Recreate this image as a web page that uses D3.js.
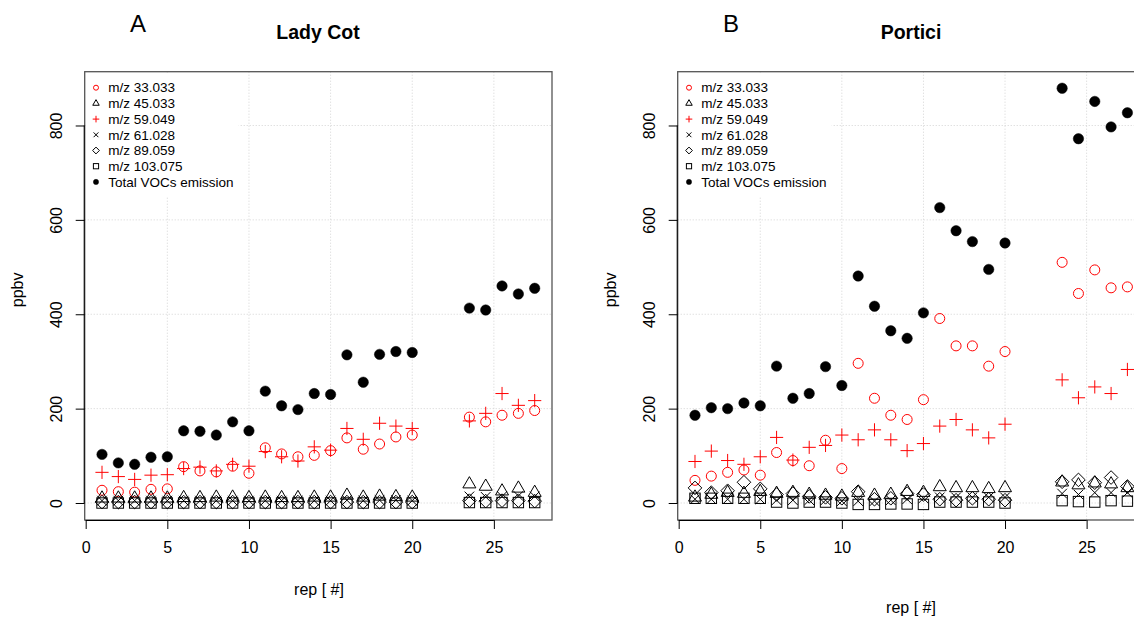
<!DOCTYPE html>
<html>
<head>
<meta charset="utf-8">
<script src="https://cdn.jsdelivr.net/npm/d3@7"></script>
<style>
  body { margin: 0; background: #fff; }
  svg { display: block; font-family: "Liberation Sans", Arial, sans-serif; }
</style>
</head>
<body>
<svg id="chart" width="1134" height="617"></svg>
<script>
//Repetition numbers (x values), same for both sites
var reps = [1, 2, 3, 4, 5, 6, 7, 8, 9, 10, 11, 12, 13, 14, 15, 16, 17, 18, 19, 20, 23.5, 24.5, 25.5, 26.5, 27.5];

//Lady Cot series (ppbv)
var ladyMz33  = [27, 24, 23, 29, 30, 77, 68, 66, 78, 63, 117, 104, 98, 101, 111, 138, 114, 125, 140, 144, 182, 172, 186, 190, 196];
var ladyMz45  = [10, 10, 10, 10, 10, 11, 11, 12, 12, 11, 12, 11, 11, 12, 12, 16, 12, 14, 13, 12, 40, 35, 25, 31, 22];
var ladyMz59  = [65, 56, 50, 59, 60, 73, 76, 68, 82, 78, 109, 98, 89, 119, 112, 158, 135, 169, 163, 158, 174, 190, 232, 207, 217];
var ladyMz61  = [5, 5, 5, 5, 5, 5, 5, 5, 5, 5, 5, 5, 5, 5, 5, 6, 5, 6, 6, 5, 14, 13, 14, 15, 14];
var ladyMz89  = [2, 2, 2, 2, 2, 2, 2, 2, 2, 2, 2, 2, 2, 2, 2, 2, 2, 2, 2, 2, 5, 4, 5, 5, 4];
var ladyMz103 = [0, 0, 0, 0, 0, 0, 0, 0, 0, 0, 0, 0, 0, 0, 0, 0, 0, 0, 0, 0, 1, 1, 1, 1, 1];
var ladyTotal = [103, 85, 82, 97, 98, 153, 152, 144, 172, 153, 237, 206, 198, 232, 230, 314, 256, 315, 321, 319, 413, 409, 460, 443, 455];

//Portici series (ppbv)
var portMz33  = [48, 57, 65, 70, 59, 107, 90, 79, 133, 73, 296, 222, 186, 177, 219, 391, 333, 333, 290, 321, 510, 444, 494, 456, 458];
var portMz45  = [12, 18, 22, 20, 24, 20, 22, 18, 16, 14, 22, 16, 18, 24, 22, 34, 32, 32, 30, 32, 44, 38, 42, 40, 32];
var portMz59  = [88, 110, 90, 82, 98, 139, 91, 118, 122, 144, 134, 155, 134, 111, 126, 163, 177, 155, 138, 167, 261, 223, 246, 232, 283];
var portMz61  = [8, 8, 8, 8, 8, 6, 6, 6, 6, 4, 4, 4, 6, 8, 10, 12, 12, 12, 12, 12, 20, 18, 22, 22, 22];
var portMz89  = [32, 22, 26, 44, 30, 18, 20, 14, 12, 10, 24, 8, 10, 20, 18, 8, 6, 10, 8, 6, 45, 49, 43, 54, 35];
var portMz103 = [10, 10, 10, 10, 10, 2, 0, 2, 2, 0, -3, -3, -2, -2, -3, 2, 2, 2, 2, 0, 5, 3, 2, 5, 4];
var portTotal = [186, 202, 200, 212, 206, 290, 222, 232, 289, 249, 481, 417, 365, 349, 403, 626, 577, 554, 495, 551, 879, 772, 851, 797, 827];

//Legend labels, in plotting order
var seriesLabels = ["m/z 33.033", "m/z 45.033", "m/z 59.049", "m/z 61.028", "m/z 89.059", "m/z 103.075", "Total VOCs emission"];
//Marker type and colour for each series
var seriesMarkers = ["circle", "triangle", "plus", "cross", "diamond", "square", "dot"];
var seriesColours = ["#ff0000", "#000", "#ff0000", "#000", "#000", "#000", "#000"];

//Axis ticks
var xTicks = [0, 5, 10, 15, 20, 25];
var yTicks = [0, 200, 400, 600, 800];
var xGrid = [5, 10, 15, 20, 25];
var yGrid = [0, 200, 400, 600, 800];

var svg = d3.select("#chart");

//Draws one R-like plotting symbol, k scales the size (1 = points, 0.5 = legend)
function appendMarker(g, type, cx, cy, colour, k) {
  var s;
  if (type == "circle") {
    g.append("circle").attr("cx", cx).attr("cy", cy).attr("r", 5 * k)
      .attr("fill", "none").attr("stroke", colour).attr("stroke-width", 1);
  } else if (type == "dot") {
    g.append("circle").attr("cx", cx).attr("cy", cy).attr("r", 5.2 * k)
      .attr("fill", colour).attr("stroke", colour).attr("stroke-width", 0.5);
  } else if (type == "triangle") {
    s = 7.5 * k;
    var hw = s * Math.sqrt(3) / 2;
    g.append("path")
      .attr("d", "M" + cx + "," + (cy - s) + "L" + (cx + hw) + "," + (cy + s / 2) + "L" + (cx - hw) + "," + (cy + s / 2) + "Z")
      .attr("fill", "none").attr("stroke", colour).attr("stroke-width", 1);
  } else if (type == "plus") {
    s = 6.6 * k;
    g.append("path")
      .attr("d", "M" + (cx - s) + "," + cy + "H" + (cx + s) + "M" + cx + "," + (cy - s) + "V" + (cy + s))
      .attr("fill", "none").attr("stroke", colour).attr("stroke-width", 1);
  } else if (type == "cross") {
    s = 4.8 * k;
    g.append("path")
      .attr("d", "M" + (cx - s) + "," + (cy - s) + "L" + (cx + s) + "," + (cy + s) + "M" + (cx - s) + "," + (cy + s) + "L" + (cx + s) + "," + (cy - s))
      .attr("fill", "none").attr("stroke", colour).attr("stroke-width", 1);
  } else if (type == "diamond") {
    s = 6.8 * k;
    g.append("path")
      .attr("d", "M" + cx + "," + (cy - s) + "L" + (cx + s) + "," + cy + "L" + cx + "," + (cy + s) + "L" + (cx - s) + "," + cy + "Z")
      .attr("fill", "none").attr("stroke", colour).attr("stroke-width", 1);
  } else if (type == "square") {
    s = 5.2 * k;
    g.append("rect").attr("x", cx - s).attr("y", cy - s).attr("width", 2 * s).attr("height", 2 * s)
      .attr("fill", "none").attr("stroke", colour).attr("stroke-width", 1);
  }
}

//Builds one panel
function drawPanel(p) {
  var x = d3.scaleLinear().domain([-0.06, 28.56]).range([p.left, p.right]);
  var y = d3.scaleLinear().domain([-36, 914]).range([p.bottom, p.top]);

  var g = svg.append("g");

  //Gridlines (dotted light grey)
  g.append("g").selectAll("line").data(xGrid).enter().append("line")
    .attr("x1", function(d) { return x(d); }).attr("x2", function(d) { return x(d); })
    .attr("y1", p.top).attr("y2", p.bottom)
    .attr("stroke", "#d3d3d3").attr("stroke-dasharray", "1,2");
  g.append("g").selectAll("line").data(yGrid).enter().append("line")
    .attr("x1", p.left).attr("x2", p.right)
    .attr("y1", function(d) { return y(d); }).attr("y2", function(d) { return y(d); })
    .attr("stroke", "#d3d3d3").attr("stroke-dasharray", "1,2");

  //Points, one group per series
  p.series.forEach(function(values, i) {
    var sg = g.append("g");
    values.forEach(function(v, j) {
      appendMarker(sg, seriesMarkers[i], x(reps[j]), y(v), seriesColours[i], 1);
    });
  });

  //Legend with white background
  var lg = g.append("g").attr("font-size", 13.5);
  lg.append("rect")
    .attr("x", p.left + 1).attr("y", p.top + 1)
    .attr("width", 153).attr("height", 124)
    .attr("fill", "#fff");
  seriesLabels.forEach(function(label, i) {
    var ly = p.top + 16 + i * 15.7;
    appendMarker(lg, seriesMarkers[i], p.left + 11.3, ly, seriesColours[i], 0.5);
    lg.append("text")
      .attr("x", p.left + 23.6).attr("y", ly).attr("dy", "0.35em")
      .attr("fill", "#000")
      .text(label);
  });

  //Box
  g.append("rect")
    .attr("x", p.left).attr("y", p.top)
    .attr("width", p.right - p.left).attr("height", p.bottom - p.top)
    .attr("fill", "none").attr("stroke", "#555").attr("stroke-width", 1.3);

  //X axis
  var xAxis = g.append("g")
    .attr("transform", "translate(0," + p.bottom + ")")
    .call(d3.axisBottom(x).tickValues(xTicks).tickSize(9).tickPadding(13).tickSizeOuter(0));
  xAxis.select(".domain").attr("d", "M" + x(0) + ",0.5H" + x(25)).attr("stroke", "#000");
  xAxis.selectAll(".tick line").attr("stroke", "#000");
  xAxis.selectAll("text").attr("font-size", 16).attr("fill", "#000");

  //Y axis
  var yAxis = g.append("g")
    .attr("transform", "translate(" + p.left + ",0)")
    .call(d3.axisLeft(y).tickValues(yTicks).tickSize(9).tickSizeOuter(0));
  yAxis.select(".domain").attr("d", "M-0.5," + y(0) + "V" + y(800)).attr("stroke", "#000");
  yAxis.selectAll(".tick line").attr("stroke", "#000");
  yAxis.selectAll("text")
    .attr("font-size", 16).attr("fill", "#000")
    .attr("x", null).attr("dy", null)
    .attr("text-anchor", "middle")
    .attr("transform", "translate(-23,0) rotate(-90)");

  //Axis titles
  g.append("text")
    .attr("x", p.xLabelX).attr("y", p.xLabelY)
    .attr("text-anchor", "middle").attr("dy", "0.35em")
    .attr("font-size", 16)
    .text("rep [ #]");
  g.append("text")
    .attr("transform", "translate(" + (p.left - 67) + "," + ((p.top + p.bottom) / 2 - 6) + ") rotate(-90)")
    .attr("text-anchor", "middle").attr("dy", "0.35em")
    .attr("font-size", 16)
    .text("ppbv");

  //Panel title and letter
  g.append("text")
    .attr("x", p.titleX).attr("y", 32)
    .attr("text-anchor", "middle").attr("dy", "0.35em")
    .attr("font-size", 19.5).attr("font-weight", "bold")
    .text(p.title);
  g.append("text")
    .attr("x", p.letterX).attr("y", 23.5)
    .attr("text-anchor", "middle").attr("dy", "0.35em")
    .attr("font-size", 24)
    .text(p.letter);
}

drawPanel({
  left: 84.7, right: 552, top: 71.7, bottom: 520,
  series: [ladyMz33, ladyMz45, ladyMz59, ladyMz61, ladyMz89, ladyMz103, ladyTotal],
  title: "Lady Cot", titleX: 318, letter: "A", letterX: 138,
  xLabelX: 319, xLabelY: 589
});

drawPanel({
  left: 677.7, right: 1144.7, top: 71.7, bottom: 520,
  series: [portMz33, portMz45, portMz59, portMz61, portMz89, portMz103, portTotal],
  title: "Portici", titleX: 911, letter: "B", letterX: 731,
  xLabelX: 911, xLabelY: 607
});
</script>
</body>
</html>
